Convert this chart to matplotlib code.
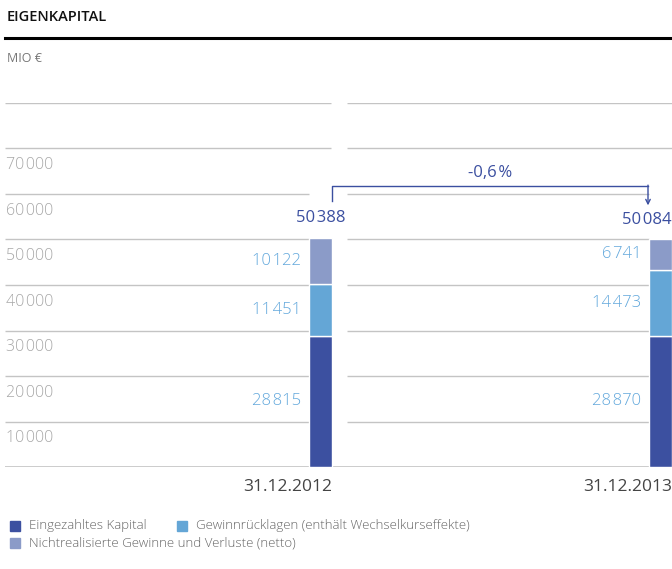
import matplotlib
matplotlib.use("Agg")
import matplotlib.pyplot as plt
from matplotlib.patches import Rectangle

plt.rcParams['font.family'] = ['Open Sans', 'DejaVu Sans']

# Daten (Mio €)
dates = ['31.12.2012', '31.12.2013']
eingezahlt = [28815, 28870]
gewinnruecklagen = [11451, 14473]
nichtrealisiert = [10122, 6741]
totals = [50388, 50084]
change_label = '-0,6\u200a%'
ytick_values = [10000, 20000, 30000, 40000, 50000, 60000, 70000]
legend_labels = ['Eingezahltes Kapital',
                 'Gewinnrücklagen (enthält Wechselkurseffekte)',
                 'Nichtrealisierte Gewinne und Verluste (netto)']

c_dark = '#3c50a0'
c_light = '#64a6d6'
c_lav = '#8b9bc8'
c_lbl = '#62a8dc'
c_tot = '#3b4fa0'
c_grid = '#c4c4c4'
c_tick = '#a8a8a8'


def fmt(v):
    s = f'{v:,}'.replace(',', '\u200a')
    return s


W, H = 672, 569
fig = plt.figure(figsize=(W / 100, H / 100), dpi=100)

# Kopfzeile
fig.text(7 / W, 1 - 17 / H, 'EIGENKAPITAL', fontsize=10.5, fontweight='semibold',
         color='#111111', va='center')
fig.add_artist(plt.Line2D([5 / W, 1], [1 - 38 / H, 1 - 38 / H], color='black', lw=2.2))
fig.text(7 / W, 1 - 58 / H, 'MIO €', fontsize=9, color='#777777', va='center')

# Achse: 0 bei px 467, 80000 bei px 103
ax = fig.add_axes([5 / W, (H - 467) / H, 667 / W, (467 - 103) / H])
unit = 340.0  # px pro Kategorie
bw = 23 / unit
x0 = -(320.5 - 5) / unit
x1 = 1 + (672 - 660.5) / unit
ax.set_xlim(x0, x1)
ax.set_ylim(0, 80000)
ax.axis('off')

xs = [0, 1]
# Gitterlinien
for v in ytick_values + [80000]:
    if v <= 60000:
        ax.hlines(v, x0, -bw / 2, color=c_grid, lw=1, zorder=1)
        ax.hlines(v, 1 + (347 - 660.5) / unit, 1 - bw / 2, color=c_grid, lw=1, zorder=1)
    else:
        ax.hlines(v, x0, (331 - 320.5) / unit, color=c_grid, lw=1, zorder=1)
        ax.hlines(v, 1 + (347 - 660.5) / unit, x1, color=c_grid, lw=1, zorder=1)
ax.hlines(0, x0, x1, color=c_grid, lw=1.2, zorder=1)

for v in ytick_values:
    ax.text(x0 + 1 / unit, v - 3700, fmt(v), fontsize=11.5, color=c_tick,
            va='center', ha='left', fontweight='light')

# Balken
b1 = eingezahlt
b2 = [a + b for a, b in zip(eingezahlt, gewinnruecklagen)]
ax.bar(xs, eingezahlt, width=bw, color=c_dark, edgecolor='white', lw=1, zorder=3)
ax.bar(xs, gewinnruecklagen, bottom=b1, width=bw, color=c_light, edgecolor='white', lw=1, zorder=3)
ax.bar(xs, nichtrealisiert, bottom=b2, width=bw, color=c_lav, edgecolor='white', lw=1, zorder=3)

for i in range(2):
    xl = xs[i] - bw / 2 - 8 / unit
    segs = [(0, eingezahlt[i]), (b1[i], gewinnruecklagen[i]), (b2[i], nichtrealisiert[i])]
    for bot, val in segs:
        ax.text(xl, bot + val / 2, fmt(val), fontsize=12, color=c_lbl,
                ha='right', va='center', fontweight='light')
    ax.text(xs[i] + bw / 2, -4300, dates[i], fontsize=12.5, color='#444444',
            ha='right', va='center')

ax.text(xs[0], totals[0] + 4300, fmt(totals[0]), fontsize=12, color=c_tot,
        ha='center', va='center')
ax.text(xs[1] + bw / 2, totals[1] + 4300, fmt(totals[1]), fontsize=12, color=c_tot,
        ha='right', va='center')

# Veränderung
xa = xs[0] + bw / 2
xb = xs[1] - bw / 2 - 1 / unit
ytop = 61800
ax.plot([xa, xa, xb], [58500, ytop, ytop], color=c_tot, lw=1, clip_on=False)
ax.annotate('', xy=(xb, 57500), xytext=(xb, ytop + 150),
            arrowprops=dict(arrowstyle='->', color=c_tot, lw=1, shrinkA=0, shrinkB=0,
                            mutation_scale=8), annotation_clip=False)
ax.text((xa + xb) / 2, ytop + 2900, change_label, fontsize=12, color=c_tot,
        ha='center', va='center')

# Legende
cols = [c_dark, c_light, c_lav]
pos = [(10, 526), (177, 526), (10, 543)]
for lab, col, (px, py) in zip(legend_labels, cols, pos):
    fig.add_artist(Rectangle((px / W, 1 - (py + 5) / H), 10 / W, 10 / H,
                             transform=fig.transFigure, color=col))
    fig.text((px + 19) / W, 1 - py / H, lab, fontsize=9.5, color='#666666',
             va='center', fontweight='light')

fig.savefig('out.png', dpi=100)
